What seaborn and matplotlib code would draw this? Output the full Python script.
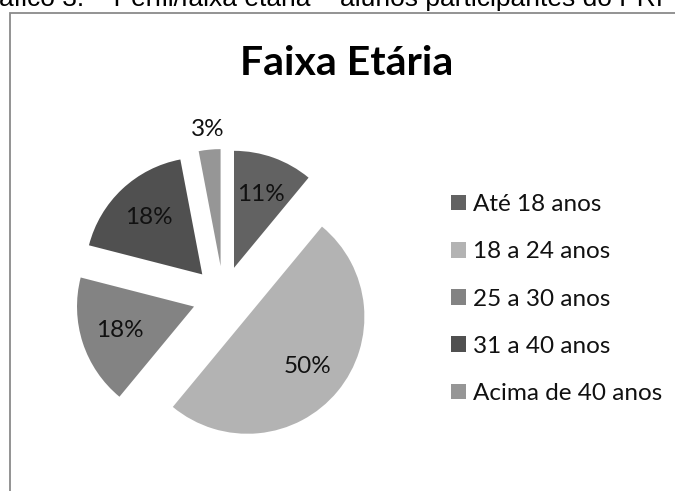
import matplotlib
matplotlib.use("Agg")
import matplotlib.pyplot as plt
import seaborn as sns
import numpy as np
from matplotlib.patches import Rectangle

categories = ["Até 18 anos", "18 a 24 anos", "25 a 30 anos", "31 a 40 anos", "Acima de 40 anos"]
values = [11, 50, 18, 18, 3]
colors = ["#626262", "#b3b3b3", "#838383", "#505050", "#969696"]
title = "Faixa Etária"
caption = "áfico 3: – Perfil/faixa etária – alunos participantes do PRI"

sns.set_theme(style="white")
plt.rcParams["font.family"] = ["Lato", "DejaVu Sans"]

W, H = 675, 491
fig = plt.figure(figsize=(W / 100, H / 100), dpi=100)
ax = fig.add_axes([0, 0, 1, 1])

R = 117
wedges, texts, autotexts = ax.pie(
    values, colors=colors, startangle=90, counterclock=False,
    explode=[31] * len(values), radius=R, center=(223.5, H - 297),
    autopct=lambda p: f"{p:.0f}%", pctdistance=0.67,
    textprops=dict(fontsize=17.5, color="#111111"),
    wedgeprops=dict(linewidth=0),
)

# small slice label outside
w = wedges[-1]
th = np.deg2rad((w.theta1 + w.theta2) / 2)
cx, cy = w.center
autotexts[-1].set_position((cx + 1.17 * R * np.cos(th), cy + 1.17 * R * np.sin(th)))

ax.set_xlim(0, W)
ax.set_ylim(0, H)
ax.set_aspect("equal")
ax.axis("off")

# chart frame (cropped)
ax.add_patch(Rectangle((10, -20), W + 40, H - 12.5 + 20, fill=False,
                       ec="#8a8a8a", lw=1.3, clip_on=True))

ax.text(347, H - 75, title, ha="center", va="baseline",
        fontsize=29.5, fontweight="bold", color="#000000")
ax.text(-1, H - 6, caption, ha="left", va="baseline", fontsize=19.0,
        color="#000000", family=["Liberation Sans", "DejaVu Sans"])

leg = ax.legend(wedges, categories, loc="upper left",
                bbox_to_anchor=(451 / W, 1 - 194 / H), bbox_transform=fig.transFigure,
                frameon=False, fontsize=17.5, handlelength=0.62, handleheight=0.62,
                handletextpad=0.3, labelspacing=1.08, borderpad=0, borderaxespad=0)
for t in leg.get_texts():
    t.set_color("#111111")

fig.savefig("out.png", dpi=100)
